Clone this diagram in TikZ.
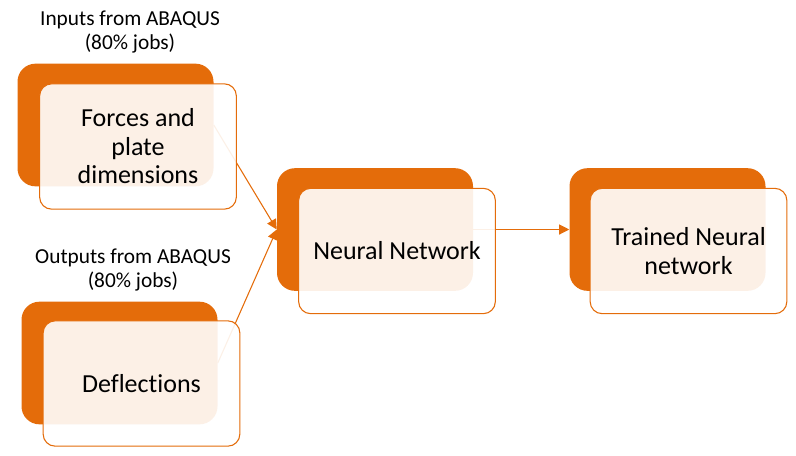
\documentclass[tikz,border=0pt]{standalone}
\usepackage{fontspec}
\setmainfont[Ligatures=NoCommon]{Carlito}
\usetikzlibrary{arrows.meta}
\definecolor{accent}{HTML}{E46C0A}
\tikzset{
  backbox/.style={draw=none, fill=accent, rounded corners=13.5pt, minimum width=147pt, minimum height=92pt, inner sep=0pt},
  frontbox/.style={draw=accent, line width=0.8pt, fill=white, fill opacity=0.9, text opacity=1, rounded corners=9pt, minimum width=147.5pt, minimum height=94pt, inner sep=2pt, align=center, font=\fontsize{19.5pt}{21.4pt}\selectfont},
  toplabel/.style={align=center, font=\fontsize{16pt}{18.6pt}\selectfont, inner sep=0pt},
  conn/.style={draw=accent, line width=0.8pt, -{Triangle[length=7.5pt,width=7.5pt]}}
}
\begin{document}
\begin{tikzpicture}[x=0.75pt,y=-0.75pt]
\useasboundingbox (0,0) rectangle (796,455);
% back boxes
\node[backbox] (b1) at (115.5,125) {};
\node[backbox] (b2) at (119.5,363) {};
\node[backbox] (b3) at (375,229.5) {};
\node[backbox] (b4) at (667.5,229.5) {};
% connectors
\draw[conn] (b1.east) -- (b3.west);
\draw[conn] (b2.east) -- (b3.west);
\draw[conn] (b3.east) -- (b4.west);
% front boxes
\node[frontbox] (f1) at (138,146.5) {Forces and\\plate\\dimensions};
\node[frontbox] (f2) at (141.5,383.5) {Deflections};
\node[frontbox] (f3) at (397,251) {Neural Network};
\node[frontbox] (f4) at (688.5,251) {Trained Neural\\network};
% labels
\node[toplabel] (l1) at (130,32) {Inputs from ABAQUS\\(80\% jobs)};
\node[toplabel] (l2) at (133,270) {Outputs from ABAQUS\\(80\% jobs)};
\end{tikzpicture}
\end{document}
